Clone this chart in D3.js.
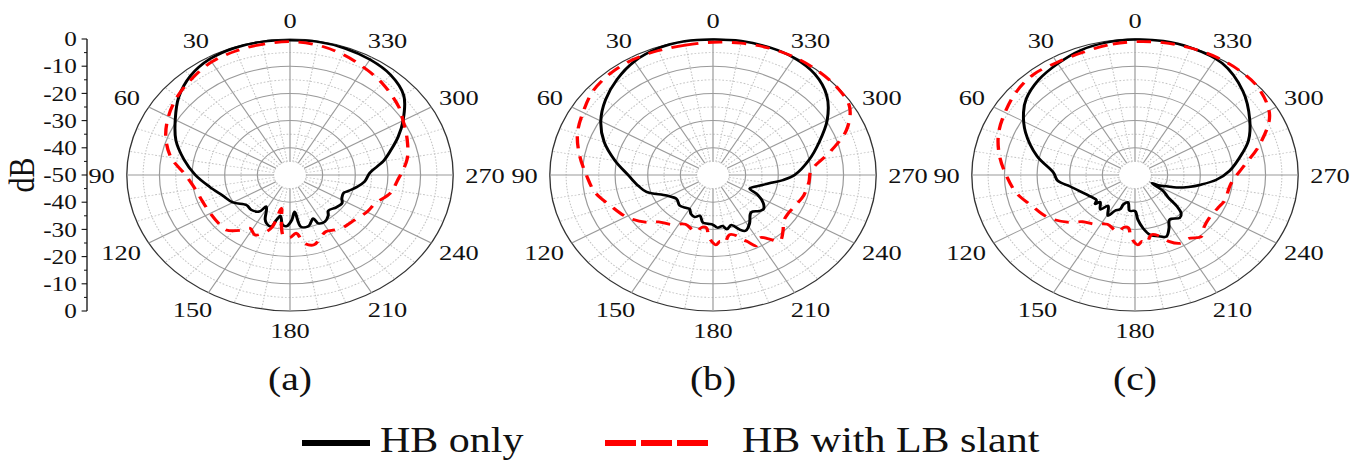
<!DOCTYPE html>
<html><head><meta charset="utf-8">
<script src="https://cdn.jsdelivr.net/npm/d3@7"></script>
<style>html,body{margin:0;padding:0;background:#fff;overflow:hidden}</style>
</head><body>
<svg id="chart" width="1361" height="462"></svg>
<script>
// ---------------- data ----------------
const panelLabels = ["(a)", "(b)", "(c)"];
const angleTicks = [0, 30, 60, 90, 120, 150, 180, 210, 240, 270, 300, 330];
const dbTickLabels = ["0", "-10", "-20", "-30", "-40", "-50", "-40", "-30", "-20", "-10", "0"];
const seriesNames = ["HB only", "HB with LB slant"];
const seriesColors = ["#000000", "#ff0000"];

// (a) HB only
const hbA_ang = [0,10,20,30,40,50,60,70,80,90,100,110,120,130,137,145,148,155,158,163,166,169,173,177,182,186,190,197,204,206,212,218,222,230,237,242,248,252,258,264,272,280,287,293,300,310,320,330,340,350];
const hbA_db  = [-0.5,-0.3,-0.3,-0.8,-2.5,-5.5,-9.4,-12.8,-17,-21,-25,-28,-29.8,-32.7,-32.5,-33.6,-36.3,-32,-30.8,-30.2,-33,-34.7,-31.5,-31.2,-33.5,-36.4,-30.7,-30.4,-32.5,-30.2,-29.8,-31,-32.4,-31.5,-31,-32,-32.3,-31.1,-29,-27,-25.5,-21,-17.5,-14,-10,-4.5,-2,-1,-0.5,-0.3];
// (a) HB with LB slant
const lbA_ang = [0,10,20,30,40,50,60,70,80,90,100,110,120,130,136,143,148,154,160,164,168,171,175,180,185,190,196,203,208,213,220,228,240,248,258,266,279,290,300,307,320,330,340,350];
const lbA_db  = [-1,-1.2,-1.5,-2,-3.5,-5,-7,-9.5,-13,-18,-20.5,-21.5,-21.8,-21.8,-21.9,-24.5,-26.9,-25.5,-27.5,-30,-37.5,-33,-27.5,-27,-28.5,-24.5,-23.3,-25.5,-26.5,-25.8,-24.8,-24.4,-22.8,-21.9,-18.5,-17.1,-13.7,-11.8,-10,-8.3,-6,-4.5,-2.8,-1.5];

// (b) HB only
const hbB_ang = [0,10,20,30,40,50,60,70,80,90,100,107,118,128,138,146,150,155,160,165,170,175,180,184,189,192,197,202,206,212,218,221,227,231,236,242,246,250,255,260,265,270,281,290,300,310,320,330,340,350];
const hbB_db  = [-0.2,-0.1,-0.5,-1.8,-4.2,-7,-10.3,-14.5,-19.5,-24,-26.8,-28.7,-33.9,-35.8,-34.8,-35.4,-35.6,-34.1,-33.6,-34.5,-32.2,-32,-31.7,-30.6,-31,-29.6,-30.8,-28.4,-27.2,-28.9,-31.5,-32,-30.6,-30.1,-31.4,-34.5,-37.7,-37,-35,-32.5,-28.5,-25,-19.9,-15.5,-9.6,-4.5,-1.5,-0.3,0,0];
// (b) HB with LB slant
const lbB_ang = [0,10,20,30,40,50,60,70,80,90,100,110,120,130,136,145,155,162,166,170,174,177,182,185,188,193,198,200,203,207,212,216,220,226,232,238,245,255,265,273,284,292,301,310,320,330,340,350];
const lbB_db  = [-1.2,-1.5,-1.3,-1,-1.2,-2,-4,-5.8,-8.5,-11.2,-13.3,-16.7,-19.3,-23,-26,-27.8,-30,-29,-28.4,-30.5,-30.5,-27,-24.3,-25.5,-24.7,-27.5,-26.5,-25,-23.5,-20.8,-22.8,-21,-18.2,-20.2,-22.5,-23,-22.5,-21.2,-20.5,-19.9,-12.6,-5.9,-1.2,-0.2,0,0,-0.3,-0.8];

// (c) HB only
const hbC_ang = [0,10,20,30,40,50,56,65,77,88,95,102,111,122,128,131,133,140,144,151,155,160,162,168,173,180,183,187,192,199,203,208,213,221,225,228,231,236,240,243,247,250,255,260,266,273,284,290,300,313,327,340,350];
const hbC_db  = [-0.2,-0.5,-1.2,-2.7,-4.2,-6.5,-8.8,-13,-19.2,-25,-26.2,-29.7,-32.5,-34.5,-35,-33.8,-35.4,-33.5,-36,-32.9,-35.5,-36.6,-38.7,-39.7,-36.7,-36.8,-33.6,-30.4,-27.5,-26.1,-25.4,-27.8,-30.5,-29.1,-30,-32.6,-36.9,-39.7,-44,-41.5,-39.5,-36.5,-33,-29.5,-25,-21,-16,-13,-9.4,-4.8,-1,-0.2,0];
// (c) HB with LB slant
const lbC_ang = [0,10,20,30,40,50,60,70,80,90,100,110,120,130,137,145,155,162,166,170,174,177,182,185,188,193,198,203,209,215,222,228,235,245,251,264,275,286,298,310,320,330,340,350];
const lbC_db  = [-1,-1.5,-2.2,-2.2,-1.7,-2.5,-4,-5.5,-7.8,-10.5,-13,-16.5,-19,-23,-26.5,-28,-30,-29,-28.4,-30.5,-30.5,-27,-24.3,-25.5,-24.7,-27.5,-26.5,-23.5,-21.3,-21.5,-19.6,-21.5,-22.3,-21.8,-21,-20.4,-16.8,-10.4,-3.3,-0.5,0,0,-0.3,-0.6];

const panels = [
  {hb: [hbA_ang, hbA_db], lb: [lbA_ang, lbA_db]},
  {hb: [hbB_ang, hbB_db], lb: [lbB_ang, lbB_db]},
  {hb: [hbC_ang, hbC_db], lb: [lbC_ang, lbC_db]}
];

// ---------------- layout ----------------
const SX = 1.2;            // horizontal stretch of the whole figure
const R = 136, CY = 175;
const panelCX = [290, 713, 1135].map(x => x / SX);
const FONT = "'Liberation Serif', 'Times New Roman', serif";

const svg = d3.select("#chart");
const g = svg.append("g").attr("transform", `scale(${SX},1)`);
const rScale = d3.scaleLinear().domain([-50, 0]).range([0, R]);
const toRad = d => d * Math.PI / 180;

const lineGen = d3.lineRadial()
  .angle(d => -toRad(d[0]))
  .radius(d => rScale(Math.max(-50, d[1])))
  .curve(d3.curveCatmullRomClosed.alpha(0.5));

panels.forEach((p, i) => {
  const pg = g.append("g").attr("transform", `translate(${panelCX[i]},${CY})`);
  // rings
  const rings = d3.range(-45, 1, 5);
  pg.selectAll("circle.ring").data(rings).join("circle")
    .attr("r", d => rScale(d)).attr("fill", "none")
    .attr("stroke", d => d === 0 ? "#333" : (d % 10 === 0 ? "#9a9a9a" : "#c4c4c4"))
    .attr("stroke-width", d => d === 0 ? 1.1 : (d % 10 === 0 ? 1 : 0.9))
    .attr("stroke-dasharray", d => (d % 10 === 0) ? null : "1.5,1.5");
  // spokes
  const spokes = d3.range(0, 360, 10);
  pg.selectAll("line.spoke").data(spokes).join("line")
    .attr("x1", d => -rScale(-45) * Math.sin(toRad(d)))
    .attr("y1", d => -rScale(-45) * Math.cos(toRad(d)))
    .attr("x2", d => -rScale(0) * Math.sin(toRad(d)))
    .attr("y2", d => -rScale(0) * Math.cos(toRad(d)))
    .attr("stroke", d => d % 30 === 0 ? "#9a9a9a" : "#c4c4c4")
    .attr("stroke-width", d => d % 30 === 0 ? 1 : 0.9)
    .attr("stroke-dasharray", d => d % 30 === 0 ? null : "1.5,1.5");
  // angle labels
  angleTicks.forEach(a => {
    const s = Math.sin(toRad(a)), c = Math.cos(toRad(a));
    const t = pg.append("text").text(String(a))
      .attr("font-family", FONT).attr("font-size", 22)
      .attr("text-anchor", "middle").attr("dominant-baseline", "central")
      .attr("fill", "#111");
    const w = t.node().getComputedTextLength();
    const Ra = R + 10;
    t.attr("x", -Ra * s - s * w / 2).attr("y", -Ra * c - c * 9);
  });
  // curves
  const hbPts = p.hb[0].map((a, k) => [a, p.hb[1][k]]);
  const lbPts = p.lb[0].map((a, k) => [a, p.lb[1][k]]);
  pg.append("path").attr("d", lineGen(hbPts)).attr("fill", "none")
    .attr("stroke", seriesColors[0]).attr("stroke-width", 2.5).attr("stroke-linejoin", "round");
  pg.append("path").attr("d", lineGen(lbPts)).attr("fill", "none")
    .attr("stroke", seriesColors[1]).attr("stroke-width", 2.8).attr("stroke-dasharray", "12,8");
  // panel label
  g.append("text").text(panelLabels[i])
    .attr("x", panelCX[i]).attr("y", 390)
    .attr("font-family", FONT).attr("font-size", 33).attr("text-anchor", "middle").attr("fill", "#111");
});

// left dB axis (drawn from a linear scale)
const yScale = d3.scaleLinear().domain([0, 100]).range([CY - R, CY + R]);
const axisX = 87 / SX;
const ax = g.append("g").attr("transform", `translate(${axisX},0)`);
ax.append("line").attr("x1", 0).attr("x2", 0).attr("y1", yScale(0)).attr("y2", yScale(100))
  .attr("stroke", "#111").attr("stroke-width", 1.1);
const majors = d3.range(0, 101, 10);
ax.selectAll("line.major").data(majors).join("line").attr("class", "major")
  .attr("x1", 0).attr("x2", -4.5).attr("y1", d => yScale(d)).attr("y2", d => yScale(d))
  .attr("stroke", "#111").attr("stroke-width", 1.1);
ax.selectAll("line.minor").data(d3.range(5, 100, 10)).join("line").attr("class", "minor")
  .attr("x1", 0).attr("x2", -2.5).attr("y1", d => yScale(d)).attr("y2", d => yScale(d))
  .attr("stroke", "#111").attr("stroke-width", 1);
ax.selectAll("text.tl").data(majors).join("text").attr("class", "tl")
  .attr("x", -8.5).attr("y", d => yScale(d))
  .attr("text-anchor", "end").attr("dominant-baseline", "central")
  .attr("font-family", FONT).attr("font-size", 21).attr("fill", "#111")
  .text((d, k) => dbTickLabels[k]);

g.append("text").text("dB")
  .attr("transform", `translate(${22 / SX},${CY}) rotate(-90)`)
  .attr("text-anchor", "middle").attr("dominant-baseline", "central")
  .attr("font-family", FONT).attr("font-size", 30).attr("fill", "#111");

// legend
const leg = g.append("g");
leg.append("line").attr("x1", 302 / SX).attr("x2", 370 / SX).attr("y1", 443).attr("y2", 443)
  .attr("stroke", seriesColors[0]).attr("stroke-width", 6);
leg.append("text").text(seriesNames[0]).attr("x", 380 / SX).attr("y", 452)
  .attr("font-family", FONT).attr("font-size", 35).attr("fill", "#111");
leg.append("line").attr("x1", 605 / SX).attr("x2", 708 / SX).attr("y1", 443).attr("y2", 443)
  .attr("stroke", seriesColors[1]).attr("stroke-width", 6).attr("stroke-dasharray", `${31 / SX},${5 / SX}`);
leg.append("text").text(seriesNames[1]).attr("x", 742 / SX).attr("y", 452)
  .attr("font-family", FONT).attr("font-size", 35).attr("fill", "#111");
</script>
</body></html>
